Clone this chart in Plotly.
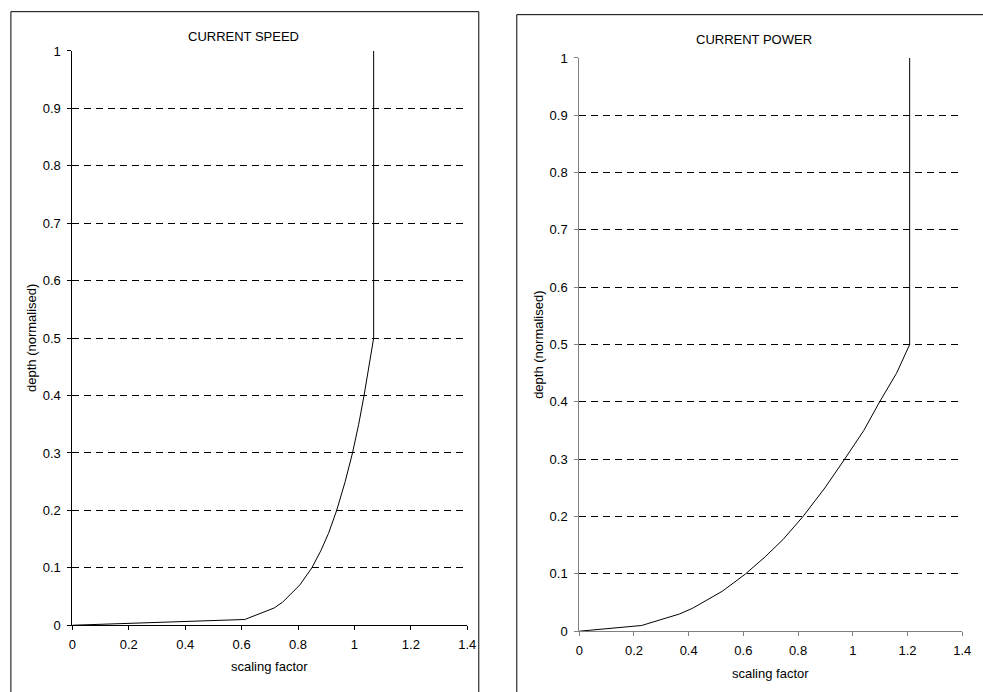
import plotly.graph_objects as go

# depth (normalised) sample points
depth = [0, 0.01, 0.03, 0.04, 0.07, 0.10, 0.13, 0.16, 0.20, 0.25, 0.30, 0.35, 0.40, 0.45, 0.50, 1.00]
# current speed scaling factor
speed = [0, 0.611, 0.715, 0.745, 0.806, 0.849, 0.881, 0.908, 0.937, 0.967, 0.993, 1.015, 1.034, 1.052, 1.068, 1.068]
# current power scaling factor
power = [0, 0.228, 0.366, 0.414, 0.524, 0.608, 0.680, 0.745, 0.818, 0.898, 0.970, 1.040, 1.098, 1.160, 1.208, 1.208]

x_ticks = [0, 0.2, 0.4, 0.6, 0.8, 1, 1.2, 1.4]
x_ticktext = ["0", "0.2", "0.4", "0.6", "0.8", "1", "1.2", "1.4"]
y_ticks = [0, 0.1, 0.2, 0.3, 0.4, 0.5, 0.6, 0.7, 0.8, 0.9, 1]
y_ticktext = ["0", "0.1", "0.2", "0.3", "0.4", "0.5", "0.6", "0.7", "0.8", "0.9", "1"]

titles = ["CURRENT SPEED", "CURRENT POWER"]
x_title = "scaling factor"
y_title = "depth (normalised)"

W, H = 983, 692
FONT = "Liberation Sans, Arial, sans-serif"
FS = 13

# target pixel positions -> paper coordinates (compensating the page capture)
AX, BX = 0.987, 3.6
AY, BY = 0.983, 5.8


def px(o):
    return (o - BX) / AX / W


def py(o):
    return 1 - (o - BY) / AY / H


def seg(x0, y0, x1, y1):
    return dict(type="line", xref="paper", yref="paper", x0=x0, y0=y0, x1=x1, y1=y1,
                line=dict(color="black", width=1), layer="below")


fig = go.Figure()
fig.add_trace(go.Scatter(x=speed, y=depth, mode="lines", line=dict(color="black", width=1),
                         xaxis="x", yaxis="y", showlegend=False, hoverinfo="skip"))
fig.add_trace(go.Scatter(x=power, y=depth, mode="lines", line=dict(color="black", width=1),
                         xaxis="x2", yaxis="y2", showlegend=False, hoverinfo="skip"))

common_x = dict(range=[0, 1.4], tickvals=x_ticks, ticktext=x_ticktext, showgrid=False,
                zeroline=False, showline=True, linewidth=1,
                ticks="outside", ticklen=4, ticklabelstandoff=3,
                tickfont=dict(family=FONT, size=FS, color="black"))
common_y = dict(range=[0, 1], tickvals=y_ticks, ticktext=y_ticktext, showgrid=True,
                gridcolor="black", gridwidth=1, griddash="7px,5px",
                zeroline=False, showline=True, linewidth=1,
                ticks="outside", ticklen=4, ticklabelstandoff=4,
                tickfont=dict(family=FONT, size=FS, color="black"))

tfont = dict(family=FONT, size=FS, color="black")

fig.update_layout(
    width=W, height=H,
    margin=dict(l=0, r=0, t=0, b=0),
    paper_bgcolor="white", plot_bgcolor="white",
    xaxis=dict(domain=[px(72), px(467)], anchor="y", linecolor="black", tickcolor="black", **common_x),
    yaxis=dict(domain=[py(627), py(50)], anchor="x", linecolor="black", tickcolor="black", **common_y),
    xaxis2=dict(domain=[px(579), px(962)], anchor="y2", linecolor="#808080", tickcolor="#808080", **common_x),
    yaxis2=dict(domain=[py(633), py(57)], anchor="x2", linecolor="#808080", tickcolor="#808080", **common_y),
    shapes=[
        seg(px(10.5), -0.05, px(10.5), py(10.5)),
        seg(px(10.5), py(10.5), px(478.5), py(10.5)),
        seg(px(478.5), py(10.5), px(478.5), -0.05),
        seg(px(516.5), -0.05, px(516.5), py(13.5)),
        seg(px(516.5), py(13.5), 1.05, py(13.5)),
    ],
    annotations=[
        dict(text=titles[0], x=px(243), y=py(35), xref="paper", yref="paper", showarrow=False,
             font=tfont, xanchor="center", yanchor="middle"),
        dict(text=titles[1], x=px(754), y=py(38), xref="paper", yref="paper", showarrow=False,
             font=tfont, xanchor="center", yanchor="middle"),
        dict(text=x_title, x=px(269), y=py(668), xref="paper", yref="paper", showarrow=False,
             font=tfont, xanchor="center", yanchor="middle"),
        dict(text=x_title, x=px(770), y=py(675), xref="paper", yref="paper", showarrow=False,
             font=tfont, xanchor="center", yanchor="middle"),
        dict(text=y_title, x=px(31), y=py(338), xref="paper", yref="paper", showarrow=False, textangle=-90,
             font=tfont, xanchor="center", yanchor="middle"),
        dict(text=y_title, x=px(538), y=py(345), xref="paper", yref="paper", showarrow=False, textangle=-90,
             font=tfont, xanchor="center", yanchor="middle"),
    ],
)

fig.write_html("out.html", config={"displayModeBar": False},
               post_script="document.body.style.margin='0';document.body.style.padding='0';document.body.style.overflow='hidden';")
